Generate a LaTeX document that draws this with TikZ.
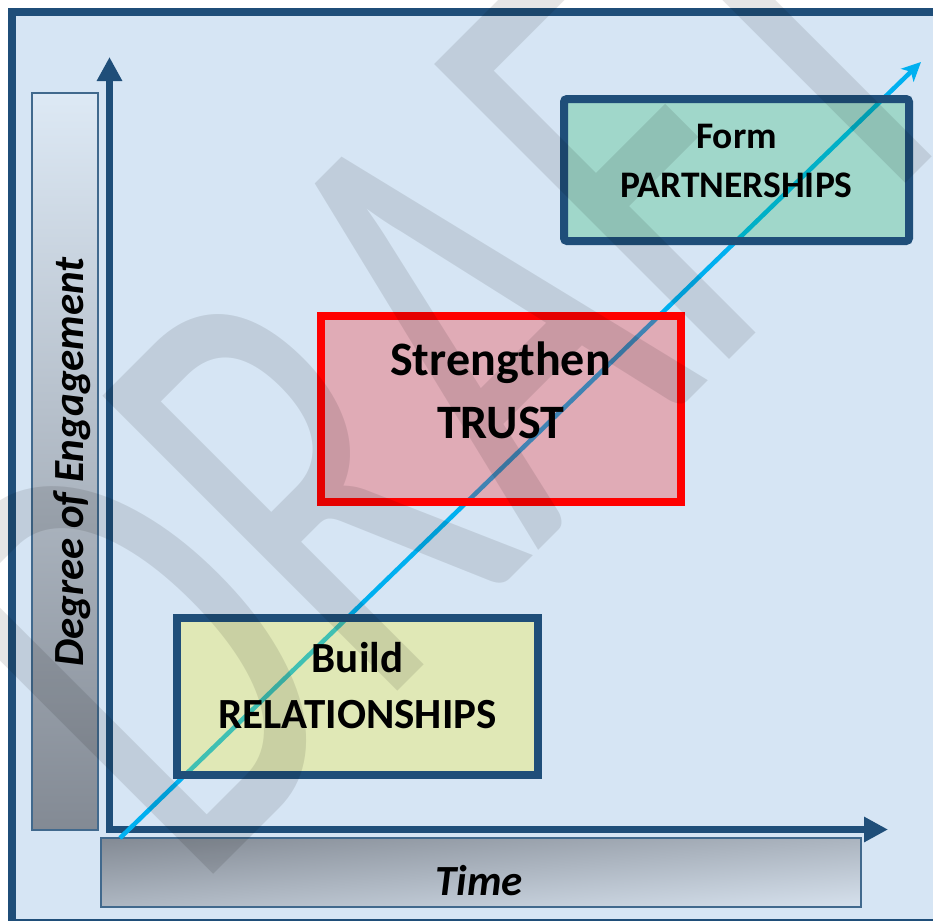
\documentclass[tikz,border=0pt]{standalone}
\usepackage{fontspec}
\setmainfont{Carlito}
\usetikzlibrary{arrows.meta}
\definecolor{frameblue}{RGB}{31,78,121}
\definecolor{bgblue}{RGB}{214,229,244}
\definecolor{linecyan}{RGB}{0,176,240}
\definecolor{bardark}{RGB}{131,138,148}
\definecolor{barlight}{RGB}{221,233,245}
\definecolor{tbardark}{RGB}{131,138,148}
\definecolor{tbarlight}{RGB}{214,225,237}
\definecolor{boxgreen}{RGB}{0,176,80}
\begin{document}
\begin{tikzpicture}[x=1bp,y=-1bp,
  gradbar/.style={draw=frameblue!85, line width=1.2bp, inner sep=0pt},
  axisline/.style={frameblue, line width=7.5bp, line join=miter,
    {Triangle[length=24bp,width=24bp]}-{Triangle[length=24bp,width=24bp]}},
  trendline/.style={linecyan, line width=4.5bp, -{Stealth[length=19bp,width=18bp,inset=5bp]}},
  stagebox/.style={line width=8bp, inner sep=0pt, fill opacity=0.25, draw opacity=1},
  lbl/.style={inner sep=0pt, anchor=base, text=black},
  axislbl/.style={inner sep=0pt, anchor=base, text=black, font=\bfseries\itshape\fontsize{43bp}{52bp}\selectfont},
  watermark/.style={inner sep=0pt, text=black, text opacity=0.1, font=\fontsize{420bp}{420bp}\selectfont}]
\useasboundingbox (0,0) rectangle (933,921);
\clip (0,0) rectangle (933,921);
% frame and background
\draw[frameblue, line width=8bp, fill=bgblue] (12,12) rectangle (950,923);
% vertical axis label bar
\node[gradbar, top color=barlight, bottom color=bardark, minimum width=66bp, minimum height=737bp] (ybar) at (65,461.5) {};
% horizontal axis label bar (slightly tilted gradient)
\begin{scope}
  \clip (101,838) rectangle (861,907);
  \shade[transform canvas={rotate around={4.8:(481,872.5)}}, top color=tbardark, bottom color=tbarlight]
    (81,806.2) rectangle (881,938.8);
\end{scope}
\node[gradbar, minimum width=760bp, minimum height=69bp] (xbar) at (481,872.5) {};
\node[axislbl, rotate=90] (ylabel) at (83,462) {Degree of Engagement};
\node[axislbl] (xlabel) at (479,895) {Time};
% axes
\coordinate (ytip) at (109.5,57);
\coordinate (origin) at (109.5,829.5);
\coordinate (xtip) at (888,829.5);
\draw[axisline] (ytip) -- (origin) -- (xtip);
% trend line
\coordinate (lstart) at (120,838);
\coordinate (ltip) at (921,62);
\draw[trendline] (lstart) -- (ltip);
% stage boxes
\node[stagebox, draw=frameblue, fill=yellow, minimum width=361bp, minimum height=157bp] (build) at (357.5,696.5) {};
\node[stagebox, draw=red, fill=red, minimum width=360bp, minimum height=186bp] (trust) at (501,409) {};
\node[stagebox, draw=frameblue, fill=boxgreen, rounded corners=3bp, minimum width=345bp, minimum height=142bp] (form) at (736.5,170) {};
% stage labels
\node[lbl, font=\bfseries\fontsize{43bp}{52bp}\selectfont] (buildA) at (357.5,672) {Build};
\node[lbl, font=\bfseries\fontsize{43bp}{52bp}\selectfont] (buildB) at (357.5,728) {RELATIONSHIPS};
\node[lbl, font=\bfseries\fontsize{48bp}{58bp}\selectfont] (trustA) at (500.5,375) {Strengthen};
\node[lbl, font=\bfseries\fontsize{48bp}{58bp}\selectfont] (trustB) at (500.5,438) {TRUST};
\node[lbl, font=\bfseries\fontsize{37.5bp}{46bp}\selectfont] (formA) at (736.5,148) {Form};
\node[lbl, font=\bfseries\fontsize{37.5bp}{46bp}\selectfont] (formB) at (736.5,197) {PARTNERSHIPS};
% watermark
\node[watermark, rotate=45, yscale=1.548] (wm) at (445,349) {DRAFT};
\end{tikzpicture}
\end{document}
